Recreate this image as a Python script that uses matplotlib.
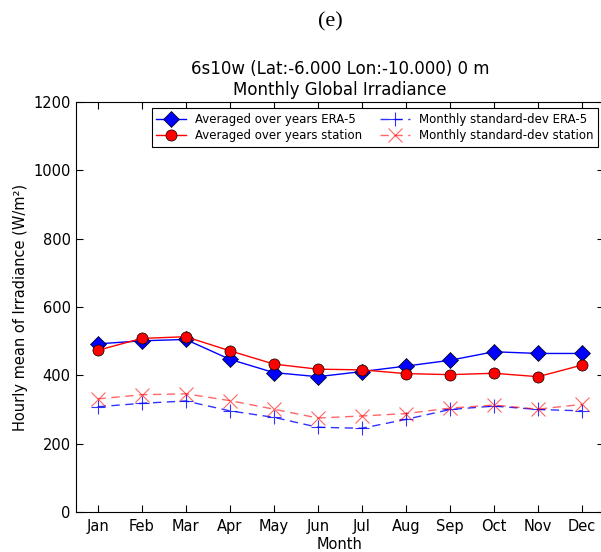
import matplotlib
matplotlib.use('Agg')
import matplotlib.pyplot as plt

months = ['Jan', 'Feb', 'Mar', 'Apr', 'May', 'Jun', 'Jul', 'Aug', 'Sep', 'Oct', 'Nov', 'Dec']
era5_mean = [492, 501, 505, 447, 408, 396, 411, 427, 444, 469, 464, 464]
station_mean = [473, 508, 513, 472, 433, 418, 416, 405, 402, 406, 396, 430]
era5_std = [308, 318, 325, 296, 277, 248, 245, 271, 300, 310, 300, 296]
station_std = [331, 343, 346, 326, 301, 275, 281, 288, 304, 313, 301, 315]

x = list(range(1, 13))

fig = plt.figure(figsize=(6.01, 5.52), dpi=100)
ax = fig.add_axes([0.1257, 0.0725, 0.8795, 0.7427])

ax.plot(x, era5_mean, 'b-', lw=1.0, marker='D', markersize=8, markeredgecolor='k',
        markeredgewidth=0.5, label='Averaged over years ERA-5')
ax.plot(x, station_mean, 'r-', lw=1.0, marker='o', markersize=8, markeredgecolor='k',
        markeredgewidth=0.5, label='Averaged over years station')
# standard deviations: dashed, lighter
ax.plot(x, era5_std, 'b--', lw=1.0, dashes=(6, 4), marker='+', markersize=10,
        markeredgewidth=0.8, alpha=0.8, label='Monthly standard-dev ERA-5')
ax.plot(x, station_std, 'r--', lw=1.0, dashes=(6, 4), marker='x', markersize=10,
        markeredgewidth=0.8, alpha=0.6, label='Monthly standard-dev station')

ax.set_xlim(0.5, 12.5)
ax.set_ylim(0, 1200)
ax.set_xticks(x)
ax.set_xticklabels(months)
ax.set_yticks(range(0, 1201, 200))
ax.tick_params(direction='in', top=True, right=True, labelsize=10.5, length=5)
ax.tick_params(axis='x', pad=5)
ax.set_xlabel('Month', fontsize=10.5, labelpad=2)
ax.set_ylabel('Hourly mean of Irradiance (W/m²)', fontsize=10.5)
ax.set_title('6s10w (Lat:-6.000 Lon:-10.000) 0 m\nMonthly Global Irradiance', fontsize=12, pad=5)

leg = ax.legend(loc='upper right', ncol=2, fontsize=8.5, fancybox=False,
                framealpha=1, edgecolor='k', borderaxespad=0.5, columnspacing=1.5,
                handlelength=2.5, labelspacing=0.3)
leg.get_frame().set_linewidth(0.8)

fig.text(0.55, 0.96, '(e)', ha='center', va='center', fontsize=16, family='Liberation Serif')

fig.savefig('out.png', dpi=100)
